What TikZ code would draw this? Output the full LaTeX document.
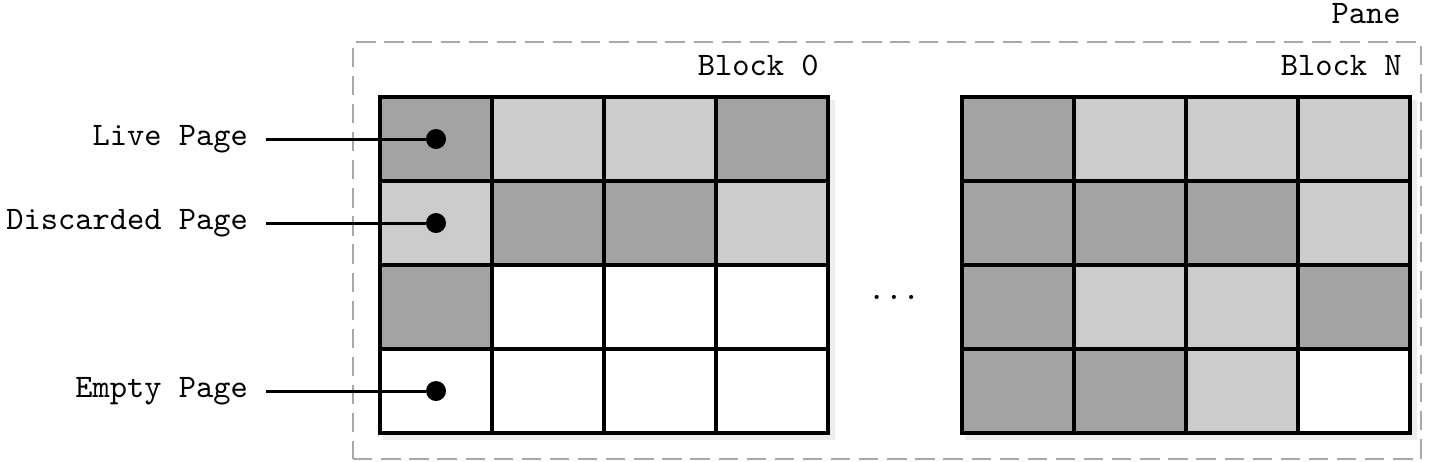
\documentclass[tikz,border=0pt]{standalone}
\usepackage{fontspec}
\setmonofont{lmmono10-regular.otf}
\usepackage{tikz}
\usetikzlibrary{positioning}
\usetikzlibrary{backgrounds}

\definecolor{livegray}{HTML}{A3A3A3}
\definecolor{discardgray}{HTML}{CCCCCC}
\definecolor{panegray}{HTML}{A8A8A8}
\definecolor{shadowgray}{HTML}{EEEEEE}

\tikzset{
  cellbox/.style={draw, rectangle, line width=2.3pt,
    minimum width=2.24cm, minimum height=1.68cm, inner sep=0pt},
  pagedot/.style={circle, fill=black, minimum size=0.4cm, inner sep=0pt},
  pagelabel/.style={inner sep=10pt},
  panebox/.style={draw=panegray, dash pattern=on 11pt off 5pt, line width=1.1pt,
    minimum width=21.36cm, minimum height=8.34cm},
  tag/.style={anchor=base east, inner sep=0pt}
}

\begin{document}
\begin{tikzpicture}[x=0.02cm, y=-0.02cm,
  font=\fontsize{18.7pt}{22pt}\selectfont\ttfamily]
\useasboundingbox (0,0) rectangle (1439,461);

\node[panebox] (pane) at (887,250.5) {};

% block 0
\foreach \r/\row in {1/{livegray,discardgray,discardgray,livegray},
                     2/{discardgray,livegray,livegray,discardgray},
                     3/{livegray,white,white,white},
                     4/{white,white,white,white}}
  \foreach \kind [count=\c] in \row
    \node[cellbox, fill=\kind] (b0-\r-\c) at ({436+112*(\c-1)},{139+84*(\r-1)}) {};

% block N
\foreach \r/\row in {1/{livegray,discardgray,discardgray,discardgray},
                     2/{livegray,livegray,livegray,discardgray},
                     3/{livegray,discardgray,discardgray,livegray},
                     4/{livegray,livegray,discardgray,white}}
  \foreach \kind [count=\c] in \row
    \node[cellbox, fill=\kind] (bN-\r-\c) at ({1018+112*(\c-1)},{139+84*(\r-1)}) {};

\begin{scope}[on background layer]
  \fill[shadowgray] ([shift={(5,5)}]b0-1-1.north west) rectangle ([shift={(5,5)}]b0-4-4.south east);
  \fill[shadowgray] ([shift={(5,5)}]bN-1-1.north west) rectangle ([shift={(5,5)}]bN-4-4.south east);
\end{scope}

\node[tag] (b0label) at ([shift={(-11,-19)}]b0-1-4.north east) {Block 0};
\node[tag] (bNlabel) at ([shift={(-10,-19)}]bN-1-4.north east) {Block N};
\node[tag] (panelabel) at ([shift={(-21,-18)}]pane.north east) {Pane};
\node[anchor=base] (gap) at (894,299) {...};

\node[pagedot] (livedot) at (b0-1-1) {};
\node[pagedot] (discarddot) at (b0-2-1) {};
\node[pagedot] (emptydot) at (b0-4-1) {};

\node[pagelabel, left=3.2cm of livedot] (livelabel) {Live Page};
\node[pagelabel, left=3.2cm of discarddot] (discardlabel) {Discarded Page};
\node[pagelabel, left=3.2cm of emptydot] (emptylabel) {Empty Page};

\draw[line width=1.7pt] (livelabel) -- (livedot);
\draw[line width=1.7pt] (discardlabel) -- (discarddot);
\draw[line width=1.7pt] (emptylabel) -- (emptydot);
\end{tikzpicture}
\end{document}
